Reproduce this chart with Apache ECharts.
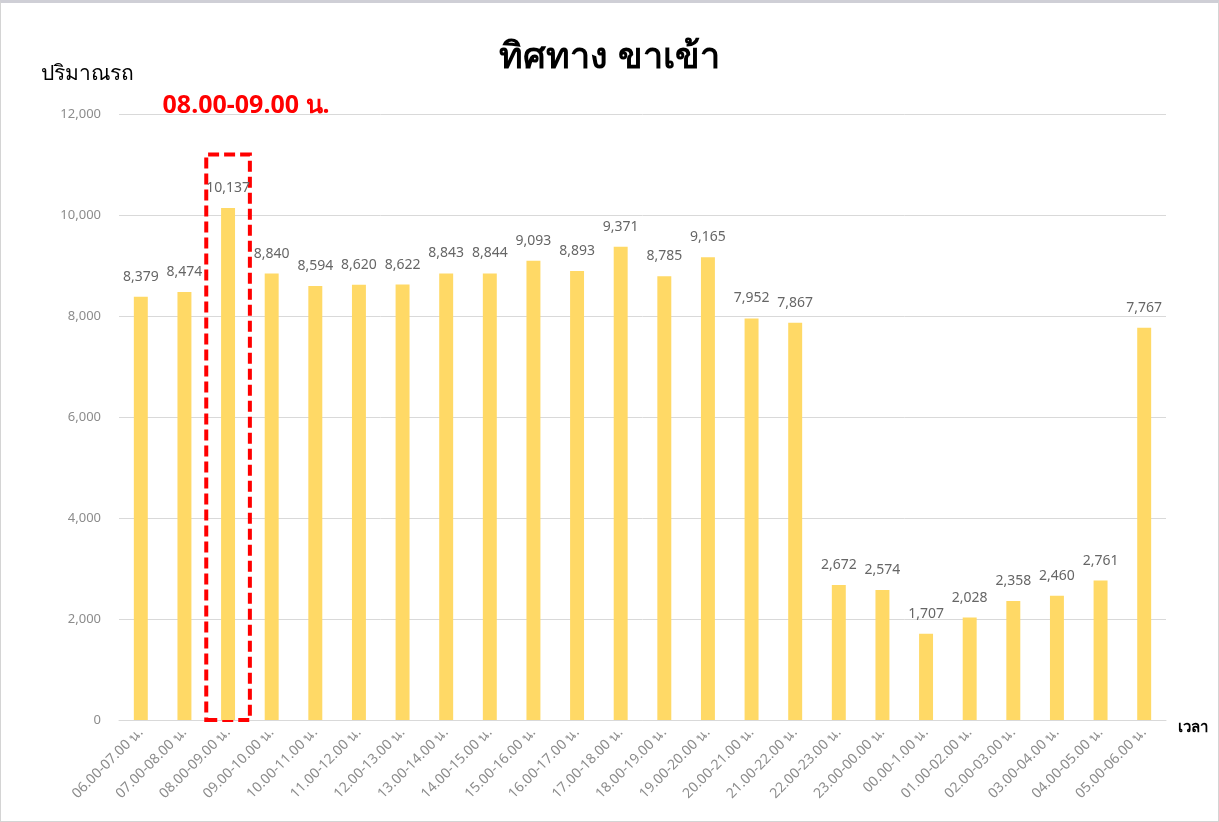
<!DOCTYPE html>
<html>
<head>
<meta charset="utf-8">
<script src="https://cdn.jsdelivr.net/npm/echarts@6/dist/echarts.min.js"></script>
<style>
  html, body { margin: 0; padding: 0; background: #fff; }
  #chart { width: 1219px; height: 822px; box-sizing: border-box; border: 1px solid #d4d4d4; border-top: 3px solid #cfcfd6; }
</style>
</head>
<body>
<div id="chart"></div>
<script>
// Hourly inbound traffic volume
const categories = [
  '06.00-07.00 น.', '07.00-08.00 น.', '08.00-09.00 น.', '09.00-10.00 น.',
  '10.00-11.00 น.', '11.00-12.00 น.', '12.00-13.00 น.', '13.00-14.00 น.',
  '14.00-15.00 น.', '15.00-16.00 น.', '16.00-17.00 น.', '17.00-18.00 น.',
  '18.00-19.00 น.', '19.00-20.00 น.', '20.00-21.00 น.', '21.00-22.00 น.',
  '22.00-23.00 น.', '23.00-00.00 น.', '00.00-1.00 น.', '01.00-02.00 น.',
  '02.00-03.00 น.', '03.00-04.00 น.', '04.00-05.00 น.', '05.00-06.00 น.'
];
const volumes = [
  8379, 8474, 10137, 8840, 8594, 8620, 8622, 8843, 8844, 9093, 8893, 9371,
  8785, 9165, 7952, 7867, 2672, 2574, 1707, 2028, 2358, 2460, 2761, 7767
];
// Peak hour highlight
const peakCategory = '08.00-09.00 น.';
const peakBoxTop = 11200;

const thaiFont = '"Noto Sans", "DejaVu Sans", sans-serif';
const chart = echarts.init(document.getElementById('chart'));
chart.setOption({
  animation: false,
  title: {
    text: 'ทิศทาง ขาเข้า',
    left: 'center',
    top: 32,
    textStyle: { fontSize: 36, fontWeight: 'bold', color: '#000', fontFamily: thaiFont }
  },
  grid: { left: 118, right: 52, top: 111, bottom: 101 },
  xAxis: {
    type: 'category',
    data: categories,
    name: 'เวลา',
    nameLocation: 'end',
    nameGap: 12,
    nameTextStyle: { color: '#000', fontSize: 15, fontWeight: 'bold', fontFamily: thaiFont, verticalAlign: 'top', padding: [0, 0, 0, 0] },
    axisLine: { lineStyle: { color: '#d9d9d9', width: 1 } },
    axisTick: { show: false },
    axisLabel: {
      interval: 0,
      rotate: 45,
      color: '#8c8c8c',
      fontSize: 14,
      margin: 10,
      fontFamily: thaiFont
    }
  },
  yAxis: {
    type: 'value',
    min: 0,
    max: 12000,
    interval: 2000,
    name: 'ปริมาณรถ',
    nameLocation: 'end',
    nameGap: 29,
    nameTextStyle: { color: '#000', fontSize: 21, fontWeight: 500, fontFamily: thaiFont, align: 'left', padding: [0, 0, 0, -78] },
    axisLine: { show: false },
    axisTick: { show: false },
    splitLine: { lineStyle: { color: '#d9d9d9', width: 1 } },
    axisLabel: {
      color: '#8c8c8c',
      fontSize: 13,
      margin: 18,
      fontFamily: thaiFont,
      formatter: v => v.toLocaleString('en-US')
    }
  },
  series: [{
    type: 'bar',
    data: volumes,
    barWidth: '32%',
    itemStyle: { color: '#FFD966' },
    label: {
      show: true,
      position: 'top',
      distance: 13,
      color: '#666666',
      fontSize: 14,
      fontFamily: thaiFont,
      formatter: p => p.value.toLocaleString('en-US')
    },
    markArea: {
      silent: true,
      itemStyle: {
        color: 'rgba(0,0,0,0)',
        borderColor: '#ff0000',
        borderWidth: 4,
        borderType: [11, 5]
      },
      label: {
        show: true,
        position: 'top',
        distance: 34,
        offset: [18, 0],
        color: '#ff0000',
        fontSize: 25,
        fontWeight: 'bold',
        fontFamily: thaiFont,
        formatter: peakCategory
      },
      data: [[
        { xAxis: peakCategory, yAxis: 0 },
        { xAxis: peakCategory, yAxis: peakBoxTop }
      ]]
    }
  }]
});
</script>
</body>
</html>
